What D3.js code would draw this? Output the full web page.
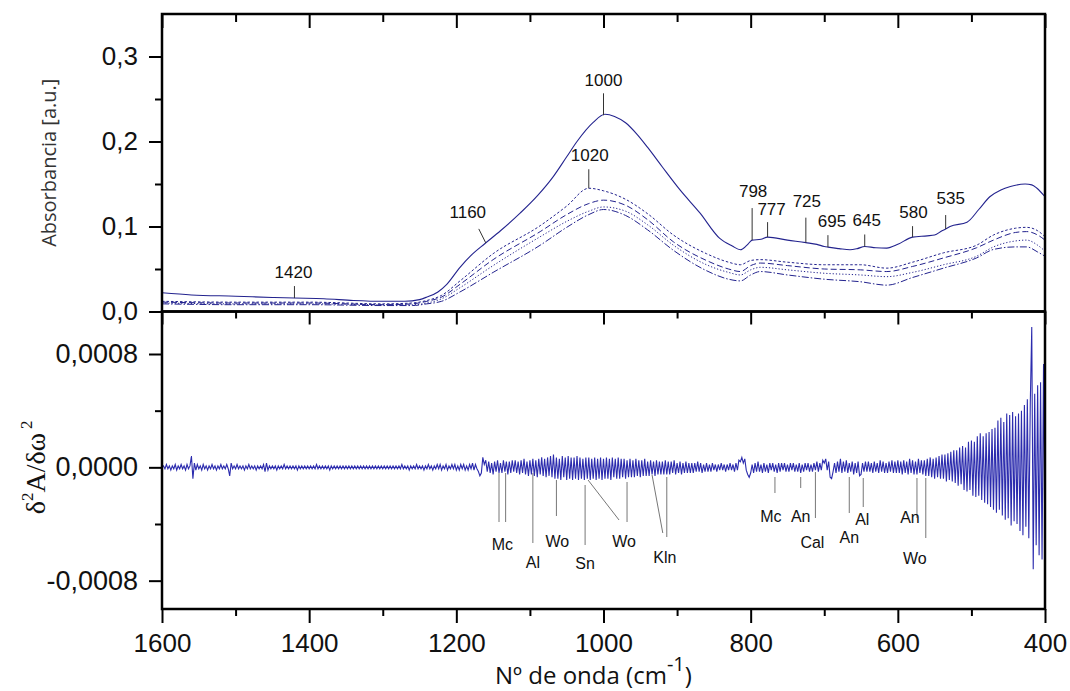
<!DOCTYPE html>
<html>
<head>
<meta charset="utf-8">
<script src="https://cdn.jsdelivr.net/npm/d3@7"></script>
<style>
body { margin: 0; background: #fff; }
svg { display: block; }
</style>
</head>
<body>
<svg id="chart" width="1070" height="691"></svg>
<script>
// absorbance spectrum (solid line)
var wnMain = [1600,1560,1500,1450,1420,1380,1340,1300,1270,1250,1240,1225,1213,1195,1180,1161,1140,1113,1090,1068,
  1050,1036,1014,998,985,970,955,940,920,896,869,842,825,814,805,798,786,777,750,725,
  710,700,695,680,665,655,645,630,615,600,580,560,550,540,535,529,506,490,475,460,447,427,418,411,400];
var absMain = [0.022,0.0195,0.018,0.0165,0.0158,0.015,0.013,0.012,0.012,0.014,0.017,0.023,0.032,0.052,0.066,0.080,0.095,0.116,0.136,0.159,
  0.182,0.200,0.2225,0.232,0.2295,0.222,0.209,0.193,0.170,0.143,0.116,0.086,0.077,0.0726,0.078,0.084,0.085,0.0875,0.084,0.081,
  0.079,0.0765,0.0757,0.074,0.0726,0.074,0.0765,0.075,0.0746,0.079,0.0875,0.089,0.090,0.095,0.097,0.100,0.105,0.120,0.135,0.143,0.147,0.150,0.149,0.145,0.135];

// the four weaker spectra (dotted / dashed)
var wnDash = [1600,1500,1400,1300,1260,1240,1220,1195,1150,1086,1050,1020,1000,970,940,905,860,830,814,800,
  787,750,700,651,615,580,538,493,470,440,425,410,400];
var absDot = [0.012,0.011,0.011,0.009,0.010,0.013,0.019,0.036,0.068,0.101,0.124,0.145,0.142,0.132,0.115,0.090,0.068,0.058,0.055,0.060,
  0.061,0.058,0.055,0.055,0.051,0.058,0.069,0.078,0.090,0.098,0.099,0.095,0.088];
var absDash = [0.011,0.010,0.010,0.008,0.009,0.012,0.017,0.032,0.061,0.094,0.114,0.127,0.131,0.125,0.108,0.082,0.060,0.050,0.047,0.054,
  0.057,0.054,0.050,0.049,0.047,0.053,0.063,0.075,0.084,0.093,0.094,0.090,0.084];
var absDashDot = [0.010,0.009,0.009,0.008,0.008,0.010,0.015,0.028,0.054,0.088,0.106,0.118,0.123,0.118,0.102,0.078,0.055,0.046,0.043,0.049,
  0.052,0.049,0.045,0.043,0.041,0.046,0.055,0.065,0.076,0.083,0.084,0.078,0.071];
var absDashDotDot = [0.009,0.008,0.008,0.007,0.007,0.009,0.012,0.023,0.046,0.078,0.099,0.114,0.120,0.113,0.096,0.072,0.048,0.038,0.036,0.043,
  0.047,0.043,0.038,0.035,0.031,0.040,0.051,0.063,0.073,0.076,0.076,0.070,0.065];

// second derivative, 1600 -> 400 every 2 cm-1, in units of 1e-5
var d2Start = 1600, d2Step = -2, d2Unit = 1e-5;
var d2Values = [
  0,1,-1,2,-1,1,-2,1,-1,2,-2,1,-1,2,-1,1,-2,2,-1,1,
  8,-8,3,-2,2,-1,1,-2,2,-1,1,-2,1,-1,2,-1,1,-2,1,-1,
  2,-1,1,-1,2,-1,-6,3,-1,1,-1,2,-1,1,-1,1,-2,1,-1,2,
  -1,1,-1,1,-2,1,-1,1,-1,2,-3,3,-2,1,-1,1,-1,1,-2,1,
  -1,1,-1,2,-1,1,-1,1,-1,1,-1,1,-2,1,-1,1,-1,1,-1,1,
  -1,1,-1,1,-1,2,-1,1,-1,1,-1,1,-1,1,-2,1,-1,1,-1,1,
  -1,1,-1,1,-1,1,-1,1,-1,1,-1,1,-1,1,-1,1,-1,1,-1,1,
  -1,1,-1,1,-1,1,-1,1,-1,1,-1,1,-1,1,-1,1,-1,1,-1,1,
  -1,1,-1,2,-1,1,-1,1,-2,1,-1,1,-1,2,-1,1,-1,1,-2,1,
  -1,2,-1,1,-2,1,-1,2,-1,2,-2,1,-1,2,-2,1,-1,2,-1,2,
  -2,1,-2,2,-1,2,-2,1,-2,2,-1,3,-2,2,-1,-3,-6,-4,7,2,
  5,-3,4,-4,3,-5,4,-3,5,-4,3,-4,5,-3,4,-5,4,-4,5,-3,
  5,-4,4,-5,5,-4,6,-5,4,-6,5,-5,6,-6,5,-7,6,-5,7,-6,
  6,-7,7,-6,8,-7,9,-8,7,-8,6,-9,8,-7,7,-9,8,-8,7,-9,
  7,-8,8,-9,7,-8,6,-9,7,-8,7,-9,6,-8,7,-9,6,-8,7,-9,
  6,-8,7,-8,6,-9,7,-7,6,-8,7,-8,6,-7,6,-8,5,-7,6,-7,
  5,-7,6,-6,5,-7,5,-6,6,-6,4,-6,5,-5,4,-6,5,-5,4,-5,
  4,-5,5,-5,4,-5,4,-4,5,-5,3,-4,4,-5,3,-4,4,-4,3,-4,
  3,-4,3,-3,4,-3,3,-4,2,-3,3,-3,2,-3,3,-2,2,-3,2,-2,
  3,-2,2,-3,2,-2,3,-2,2,-3,3,-2,5,4,7,3,6,-2,-5,-7,
  -4,2,-4,3,-3,4,-3,2,-4,3,-3,2,-4,3,-2,3,-3,2,-4,3,
  -3,3,-2,3,-3,2,-3,3,-2,3,-3,2,-3,3,-4,2,-3,3,-2,3,
  -3,2,-3,3,-2,4,-3,3,-2,5,3,6,-2,4,-7,-8,-3,3,-4,4,
  -3,6,-4,4,-3,5,-4,3,-3,4,-5,3,-4,4,-6,-5,3,-3,4,-3,
  4,-3,3,-4,4,-3,3,-4,5,-3,4,-4,3,-4,4,-3,5,-4,4,-4,
  5,-4,4,-5,5,-4,4,-5,6,-4,5,-5,4,-5,6,-4,5,-5,5,-6,
  6,-6,7,-7,6,-8,7,-7,8,-8,9,-8,9,-10,10,-9,11,-10,12,-11,
  12,-13,14,-12,15,-16,14,-17,18,-16,19,-20,18,-21,22,-20,24,-23,22,-25,
  24,-26,25,-28,27,-30,28,-32,33,-30,35,-34,32,-37,38,-36,37,-41,39,-38,
  36,-40,38,-45,40,-48,44,-42,48,-50,45,99,-72,52,-55,58,-62,60,-65,73,
  -70
];

var xTicks = [1600,1400,1200,1000,800,600,400];
var xMinor = [1500,1300,1100,900,700,500];
var topTicks = [0,0.1,0.2,0.3];
var topMinor = [0.05,0.15,0.25];
var lowTicks = [-0.0008,0,0.0008];
var lowMinor = [-0.0004,0.0004];

// peak labels in the upper panel
var peakWn = [1420,1160,1000,1020,798,777,725,695,645,580,535];
var peakSeries = ["main","main","main","dot","main","main","main","main","main","main","main"];
// layout: line length, text shift, gap above line, tilt of the line
var peakLen = [12,14,22,19,32,15,25,12,12,11,14];
var peakDx = [-1,-11,0,1,1,4,1,4,2,1,5];
var peakGap = [8,11,7,8,11,7,11,8,8,8,11];
var peakTilt = [0,-7,0,0,0,0,0,0,0,0,0];

// band assignments in the lower panel
var bandText = ["Mc","Al","Wo","Sn","Wo","Kln","Mc","An","Cal","An","Al","An","Wo"];
var bandWn = [[1142,1133],[1096],[1064],[1025],[968],[914],[767],[732],[712],[666],[647],[574],[562]];
var bandDiag = [null,null,null,null,1021,934,null,null,null,null,null,null,null];
// layout: line top / bottom, text x shift, text baseline
var bandTop = [473,473,480,485,482,477,477,477,472,477,478,478,478];
var bandBottom = [522,543,516,545,522,537,493,488,518,513,507,518,538];
var bandDx = [0,0,1,0,-3,-2,-4,0,-3,0,-1,-7,-11];
var bandY = [550,568,547,569,547,563,522,522,548,543,525,523,564];
var diagEnd = [[0,0],[0,0],[0,0],[0,0],[-8,520],[-4,533]];

var comma = d3.formatLocale({decimal: ",", thousands: ".", grouping: [3], currency: ["", ""], minus: "-"});

var svg = d3.select("#chart");
var left = 162, right = 1045, top0 = 14, mid = 311.5, bottom = 609;
var ink = "#23238e";

var x = d3.scaleLinear().domain([1600, 400]).range([left, right]);
var yTop = d3.scaleLinear().domain([0, 0.35]).range([mid, top0]);
var yLow = d3.scaleLinear().domain([-0.001, 0.0011]).range([bottom, mid]);

function value_at(wns, vals, w) {
    for (var i = 0; i < wns.length - 1; i++) {
        if (w <= wns[i] && w >= wns[i + 1]) {
            var t = (wns[i] - w) / (wns[i] - wns[i + 1]);
            return vals[i] + t * (vals[i + 1] - vals[i]);
        }
    }
    return vals[vals.length - 1];
}

// ---- upper panel curves
var topLine = d3.line()
    .x(function(d) { return x(d[0]); })
    .y(function(d) { return yTop(d[1]); })
    .curve(d3.curveMonotoneX);

var dashSeries = [
    {vals: absDot, dash: "2.5,2"},
    {vals: absDash, dash: "6,3"},
    {vals: absDashDot, dash: "1.2,2"},
    {vals: absDashDotDot, dash: "7,2,1.5,2"}
];
dashSeries.forEach(function(s) {
    svg.append("path")
        .datum(d3.zip(wnDash, s.vals))
        .attr("d", topLine)
        .attr("fill", "none")
        .attr("stroke", ink)
        .attr("stroke-width", 1)
        .attr("stroke-dasharray", s.dash);
});
svg.append("path")
    .datum(d3.zip(wnMain, absMain))
    .attr("d", topLine)
    .attr("fill", "none")
    .attr("stroke", ink)
    .attr("stroke-width", 1.1);

// ---- lower panel second derivative
svg.append("clipPath").attr("id", "lowclip")
    .append("rect").attr("x", left).attr("y", mid).attr("width", right - left).attr("height", bottom - mid);
var lowLine = d3.line()
    .x(function(d, i) { return x(d2Start + i * d2Step); })
    .y(function(d) { return yLow(d * d2Unit); });
svg.append("path")
    .datum(d2Values)
    .attr("d", lowLine)
    .attr("clip-path", "url(#lowclip)")
    .attr("fill", "none")
    .attr("stroke", "#2c2cae")
    .attr("stroke-width", 1.1);

// ---- peak labels
peakWn.forEach(function(w, i) {
    var vals = peakSeries[i] == "dot" ? absDot : absMain;
    var px = x(w), py = yTop(value_at(peakSeries[i] == "dot" ? wnDash : wnMain, vals, w));
    var tx = px + peakTilt[i], ty = py - peakLen[i];
    svg.append("line")
        .attr("x1", px).attr("y1", py).attr("x2", tx).attr("y2", ty)
        .attr("stroke", "#333").attr("stroke-width", 1);
    svg.append("text")
        .attr("x", tx + peakDx[i]).attr("y", ty - peakGap[i])
        .attr("text-anchor", "middle")
        .style("font-family", "Liberation Sans, Arial, sans-serif")
        .style("font-size", "17px")
        .attr("fill", "#111")
        .text(w);
});

// ---- band labels
bandText.forEach(function(name, i) {
    bandWn[i].forEach(function(w) {
        svg.append("line")
            .attr("x1", x(w)).attr("x2", x(w))
            .attr("y1", bandTop[i]).attr("y2", bandBottom[i])
            .attr("stroke", "#777").attr("stroke-width", 1);
    });
    if (bandDiag[i] !== null) {
        svg.append("line")
            .attr("x1", x(bandDiag[i])).attr("y1", bandTop[i] - 2)
            .attr("x2", x(bandWn[i][0]) + diagEnd[i][0]).attr("y2", diagEnd[i][1])
            .attr("stroke", "#777").attr("stroke-width", 1);
    }
    svg.append("text")
        .attr("x", x(d3.mean(bandWn[i])) + bandDx[i]).attr("y", bandY[i])
        .attr("text-anchor", "middle")
        .style("font-family", "Liberation Sans, Arial, sans-serif")
        .style("font-size", "16px")
        .attr("fill", "#111")
        .text(name);
});

// ---- axes
function style_axis(g, fontSize) {
    g.select(".domain").remove();
    g.selectAll(".tick line").attr("stroke", "#000").attr("stroke-width", 2);
    g.selectAll("text")
        .style("font-family", "Liberation Sans, Arial, sans-serif")
        .style("font-size", fontSize)
        .attr("fill", "#111");
}

svg.append("g").attr("transform", "translate(0," + top0 + ")")
    .call(d3.axisBottom(x).tickValues(xTicks).tickSize(14).tickFormat(""))
    .call(style_axis, "1px");
svg.append("g").attr("transform", "translate(0," + top0 + ")")
    .call(d3.axisBottom(x).tickValues(xMinor).tickSize(8).tickFormat(""))
    .call(style_axis, "1px");
svg.append("g").attr("transform", "translate(0," + mid + ")")
    .call(d3.axisBottom(x).tickValues(xTicks).tickSize(13).tickFormat(""))
    .call(style_axis, "1px");
svg.append("g").attr("transform", "translate(0," + mid + ")")
    .call(d3.axisBottom(x).tickValues(xMinor).tickSize(7).tickFormat(""))
    .call(style_axis, "1px");
svg.append("g").attr("transform", "translate(0," + bottom + ")")
    .call(d3.axisBottom(x).tickValues(xTicks).tickSize(14).tickPadding(11).tickFormat(d3.format("d")))
    .call(style_axis, "26px");
svg.append("g").attr("transform", "translate(0," + bottom + ")")
    .call(d3.axisBottom(x).tickValues(xMinor).tickSize(7).tickFormat(""))
    .call(style_axis, "1px");

svg.append("g").attr("transform", "translate(" + left + ",0)")
    .call(d3.axisLeft(yTop).tickValues(topTicks).tickSize(13).tickPadding(11).tickFormat(comma.format(".1f")))
    .call(style_axis, "26px");
svg.append("g").attr("transform", "translate(" + left + ",0)")
    .call(d3.axisLeft(yTop).tickValues(topMinor).tickSize(7).tickFormat(""))
    .call(style_axis, "1px");
svg.append("g").attr("transform", "translate(" + left + ",0)")
    .call(d3.axisLeft(yLow).tickValues(lowTicks).tickSize(13).tickPadding(11).tickFormat(comma.format(".4f")))
    .call(style_axis, "27px");
svg.append("g").attr("transform", "translate(" + left + ",0)")
    .call(d3.axisLeft(yLow).tickValues(lowMinor).tickSize(7).tickFormat(""))
    .call(style_axis, "1px");

// frames
[[top0, mid], [mid, bottom]].forEach(function(p) {
    svg.append("rect")
        .attr("x", left).attr("y", p[0])
        .attr("width", right - left).attr("height", p[1] - p[0])
        .attr("fill", "none").attr("stroke", "#000").attr("stroke-width", 2.5);
});

// ---- axis titles
svg.append("text")
    .attr("transform", "translate(56," + ((top0 + mid) / 2) + ") rotate(-90)")
    .attr("text-anchor", "middle")
    .style("font-family", "Open Sans, sans-serif")
    .style("font-size", "20px")
    .attr("fill", "#333")
    .text("Absorbancia [a.u.]");

var yl = svg.append("text")
    .attr("transform", "translate(45," + yLow(0) + ") rotate(-90)")
    .attr("text-anchor", "middle")
    .style("font-family", "Liberation Serif, Times New Roman, serif")
    .style("font-size", "28px")
    .attr("fill", "#111");
yl.append("tspan").text("δ");
yl.append("tspan").attr("dy", -12).style("font-size", "17px").text("2");
yl.append("tspan").attr("dy", 12).text("A/δω");
yl.append("tspan").attr("dy", -13).attr("dx", 4).style("font-size", "17px").text("2");

var xl = svg.append("text")
    .attr("x", 495).attr("y", 684)
    .style("font-family", "Open Sans, sans-serif")
    .style("font-size", "24px")
    .attr("fill", "#111");
xl.append("tspan").text("Nº   de onda (cm");
xl.append("tspan").attr("dy", -13).style("font-size", "20px").text("-1");
xl.append("tspan").attr("dy", 13).text(")");
</script>
</body>
</html>
